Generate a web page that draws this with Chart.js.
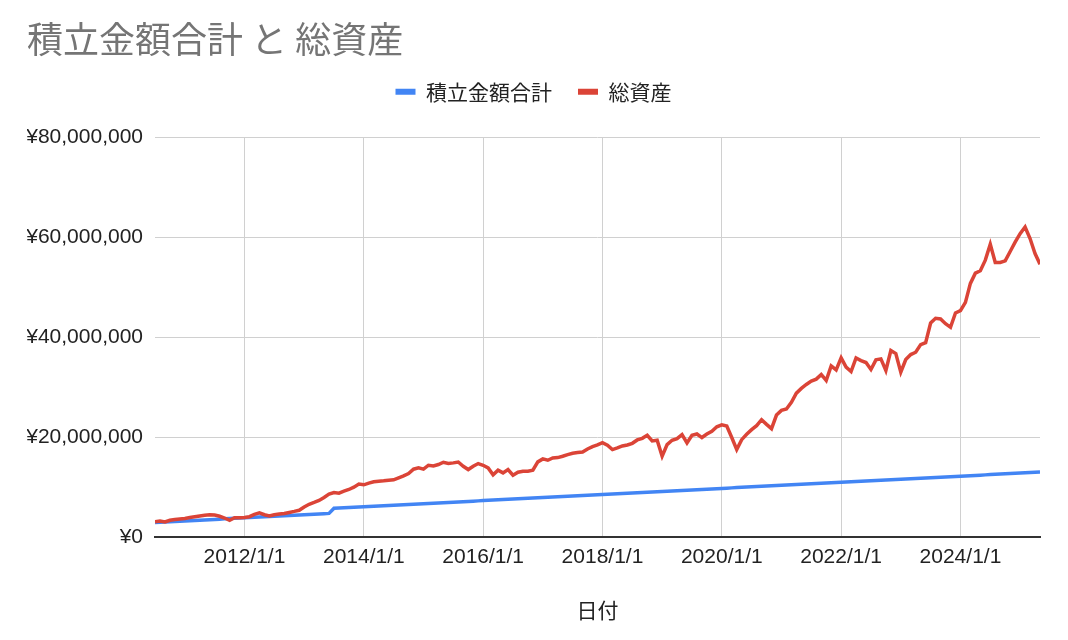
<!DOCTYPE html>
<html><head><meta charset="utf-8">
<script src="https://cdn.jsdelivr.net/npm/chart.js@4.4.1/dist/chart.umd.min.js"></script>
<style>html,body{margin:0;padding:0;background:#fff;}#wrap{width:1068px;height:640px;position:relative;}</style>
</head><body><div id="wrap"><canvas id="c"></canvas></div>
<script>
const chartTitle = '積立金額合計 と 総資産';
const seriesNames = ['積立金額合計', '総資産'];
const xAxisTitle = '日付';
const startYear = 2010, startMonth = 7;
const xTickYears = [2012, 2014, 2016, 2018, 2020, 2022, 2024];
const yTickValues = [0, 20000000, 40000000, 60000000, 80000000];

const contributions = [
2900000,2952000,3004000,3056000,3108000,3160000,3212000,3264000,3316000,3368000,
3420000,3472000,3524000,3576000,3628000,3680000,3732000,3784000,3836000,3888000,
3940000,3992000,4044000,4096000,4148000,4200000,4252000,4304000,4356000,4408000,
4460000,4512000,4564000,4616000,4668000,4720000,5750000,5801000,5852000,5903000,
5954000,6005000,6056000,6107000,6158000,6209000,6260000,6311000,6362000,6413000,
6464000,6515000,6566000,6617000,6668000,6719000,6770000,6821000,6872000,6923000,
6974000,7025000,7076000,7127000,7178000,7229000,7280000,7331000,7382000,7433000,
7484000,7535000,7586000,7637000,7688000,7739000,7790000,7841000,7892000,7943000,
7994000,8045000,8096000,8147000,8198000,8249000,8300000,8351000,8402000,8453000,
8504000,8555000,8606000,8657000,8708000,8759000,8810000,8861000,8912000,8963000,
9014000,9065000,9116000,9167000,9218000,9269000,9320000,9371000,9422000,9473000,
9524000,9575000,9626000,9677000,9728000,9779000,9830000,9881000,9932000,9983000,
10034000,10085000,10136000,10187000,10238000,10289000,10340000,10391000,10442000,10493000,
10544000,10595000,10646000,10697000,10748000,10799000,10850000,10901000,10952000,11003000,
11054000,11105000,11156000,11207000,11258000,11309000,11360000,11411000,11462000,11513000,
11564000,11615000,11666000,11717000,11768000,11819000,11870000,11921000,11972000,12023000,
12074000,12125000,12176000,12227000,12278000,12329000,12380000,12431000,12482000,12533000,
12584000,12635000,12686000,12737000,12788000,12839000,12890000,12941000,12992000
];

const totalAssets = [
3050000,3190000,3000000,3350000,3500000,3600000,3720000,3900000,4050000,4200000,
4350000,4450000,4400000,4150000,3800000,3350000,3850000,3860000,3920000,4060000,
4520000,4850000,4460000,4200000,4460000,4590000,4720000,4920000,5120000,5350000,
6000000,6550000,6920000,7320000,7910000,8580000,8910000,8780000,9180000,9510000,
9980000,10600000,10440000,10770000,11040000,11170000,11240000,11370000,11440000,11840000,
12240000,12700000,13570000,13830000,13570000,14360000,14230000,14500000,14960000,14700000,
14830000,15000000,14160000,13500000,14160000,14700000,14360000,13830000,12430000,13370000,
12830000,13500000,12370000,12970000,13170000,13170000,13370000,15030000,15630000,15360000,
15830000,15890000,16160000,16490000,16760000,16890000,17020000,17620000,18090000,18420000,
18890000,18350000,17490000,17820000,18220000,18420000,18750000,19420000,19750000,20350000,
19220000,19350000,16160000,18490000,19350000,19680000,20480000,18820000,20350000,20610000,
19900000,20600000,21150000,22050000,22450000,22210000,19900000,17500000,19480000,20550000,
21480000,22280000,23470000,22540000,21680000,24400000,25340000,25600000,26930000,28790000,
29730000,30520000,31190000,31590000,32520000,31320000,34250000,33450000,35840000,33980000,
33120000,35840000,35310000,34910000,33520000,35440000,35640000,33320000,37310000,36700000,
32980000,35510000,36510000,36970000,38500000,38900000,42830000,43760000,43620000,42690000,
41960000,44820000,45290000,46950000,50740000,52800000,53270000,55400000,58590000,54930000,
54930000,55260000,57120000,58990000,60710000,62040000,59720000,56720000,54600000
];

// month positions (decimal years) for each monthly record
const monthPos = contributions.map((_, i) => startYear + (startMonth - 1 + i) / 12);

const latinFont = "Arial, 'Liberation Sans', sans-serif";
const cjkFont = "'Noto Sans CJK JP', 'Noto Sans', sans-serif";

// adds empty space below the legend row
const legendSpace = {
  id: 'legendSpace',
  beforeLayout(chart) {
    const lg = chart.legend;
    if (lg && !lg._spacePatched) {
      const f = lg.fit;
      lg.fit = function () { f.call(this); this.height += 25; };
      lg._spacePatched = true;
    }
  }
};

new Chart(document.getElementById('c'), {
  type: 'line',
  data: {
    datasets: [
      { label: seriesNames[0], data: contributions.map((v, i) => ({ x: monthPos[i], y: v })),
        borderColor: '#4285F4', backgroundColor: '#4285F4', borderWidth: 3.5, pointRadius: 0, tension: 0, order: 1 },
      { label: seriesNames[1], data: totalAssets.map((v, i) => ({ x: monthPos[i], y: v })),
        borderColor: '#DB4437', backgroundColor: '#DB4437', borderWidth: 3.5, pointRadius: 0, tension: 0, order: 0 }
    ]
  },
  plugins: [legendSpace],
  options: {
    responsive: true, maintainAspectRatio: false, animation: false,
    layout: { padding: { left: 27, right: 28, top: 0, bottom: 0 } },
    plugins: {
      title: { display: true, text: chartTitle, align: 'start', color: '#757575',
        font: { family: cjkFont, size: 36, weight: 'normal' }, padding: { top: 18, bottom: -6 } },
      legend: { display: true, position: 'top', align: 'center',
        labels: { boxWidth: 20, boxHeight: 6, color: '#222', padding: 26,
          font: { family: cjkFont, size: 21 },
          sort: (a, b) => a.datasetIndex - b.datasetIndex,
          generateLabels: (chart) => Chart.defaults.plugins.legend.labels.generateLabels(chart).map(l => ({ ...l, lineWidth: 0 })) } },
      tooltip: { enabled: false }
    },
    scales: {
      x: { type: 'linear', min: monthPos[0], max: monthPos[monthPos.length - 1],
        afterBuildTicks: (s) => { s.ticks = xTickYears.map(v => ({ value: v })); },
        ticks: { callback: (v) => v + '/1/1', color: '#222', font: { family: latinFont, size: 21 }, padding: 8, maxRotation: 0, autoSkip: false },
        grid: { color: '#d0d0d0', lineWidth: 1, drawTicks: false },
        border: { display: true, color: '#333', width: 2 },
        title: { display: true, text: xAxisTitle, color: '#222', font: { family: cjkFont, size: 21 }, padding: { top: 0, bottom: 17 } },
        afterFit: (s) => { s.height = 103; } },
      y: { min: 0, max: 80000000,
        afterBuildTicks: (s) => { s.ticks = yTickValues.map(v => ({ value: v })); },
        ticks: { callback: (v) => '¥' + Number(v).toLocaleString('en-US'), color: '#222', font: { family: latinFont, size: 21 }, padding: 12 },
        grid: { color: '#d0d0d0', lineWidth: 1, drawTicks: false },
        border: { display: false },
        afterFit: (s) => { s.width = 128; } }
    }
  }
});
</script></body></html>
